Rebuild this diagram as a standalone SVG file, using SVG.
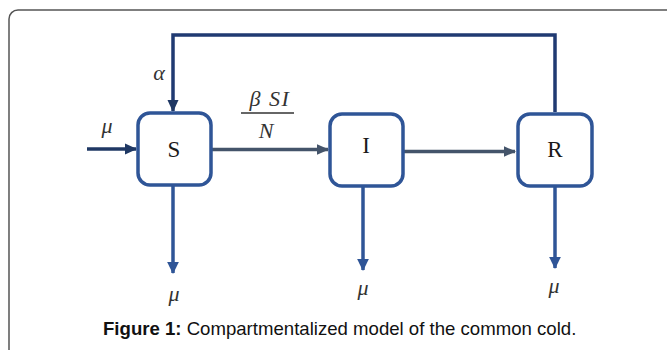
<svg xmlns="http://www.w3.org/2000/svg" width="667" height="350" viewBox="0 0 667 350">
  <style>
    .box { fill: #ffffff; stroke: #2f5597; stroke-width: 3.5; }
    .node-label { font-family: "Liberation Serif", "DejaVu Serif", serif; font-size: 23px; fill: #1a1a1a; text-anchor: middle; }
    .math { font-family: "Liberation Serif", "DejaVu Serif", serif; font-style: italic; font-size: 22px; fill: #333333; text-anchor: middle; }
    .down { stroke: #2f5597; stroke-width: 3.5; fill: none; }
    .flow { stroke: #44546a; stroke-width: 3.5; fill: none; }
    .feedback { stroke: #203a72; stroke-width: 3.5; fill: none; }
    .inflow { stroke: #1f3864; stroke-width: 3.5; fill: none; }
    .caption { font-family: "Liberation Sans", Arial, sans-serif; font-size: 18.6px; fill: #111111; }
  </style>
  <defs>
    <marker id="headBlue" markerWidth="4" markerHeight="4" refX="3.2" refY="2" orient="auto" markerUnits="strokeWidth">
      <path d="M0,0.3 L3.5,2 L0,3.7 Z" fill="#2f5597"/>
    </marker>
    <marker id="headGray" markerWidth="4" markerHeight="4" refX="3.2" refY="2" orient="auto" markerUnits="strokeWidth">
      <path d="M0,0.5 L3.5,2 L0,3.5 Z" fill="#44546a"/>
    </marker>
    <marker id="headNavy" markerWidth="4" markerHeight="4" refX="3.2" refY="2" orient="auto" markerUnits="strokeWidth">
      <path d="M0,0.4 L3.5,2 L0,3.6 Z" fill="#1f3864"/>
    </marker>
  </defs>

  <!-- figure frame -->
  <rect x="9" y="10" width="680" height="360" rx="9" fill="#ffffff" stroke="#555555" stroke-width="1.5"/>

  <!-- connectors -->
  <g id="connectors">
    <!-- recovery back to susceptible -->
    <path class="feedback" d="M555,112 V35 H173 V111" marker-end="url(#headNavy)"/>
    <!-- births -->
    <path class="inflow" d="M87,149 H136" marker-end="url(#headNavy)"/>
    <!-- infection -->
    <path class="flow" d="M212,149.5 H328" marker-end="url(#headGray)"/>
    <!-- recovery -->
    <path class="flow" d="M404,151.5 H515" marker-end="url(#headGray)"/>
    <!-- deaths -->
    <path class="down" d="M173,186 V273" marker-end="url(#headBlue)"/>
    <path class="down" d="M363,187 V270" marker-end="url(#headBlue)"/>
    <path class="down" d="M555,187 V268" marker-end="url(#headBlue)"/>
  </g>

  <!-- compartments -->
  <g id="node-S">
    <rect class="box" x="138" y="113" width="73" height="72" rx="12"/>
    <text class="node-label" x="174" y="157">S</text>
  </g>
  <g id="node-I">
    <rect class="box" x="330" y="114" width="73" height="72" rx="12"/>
    <text class="node-label" x="366" y="153">I</text>
  </g>
  <g id="node-R">
    <rect class="box" x="518" y="114" width="74" height="72" rx="12"/>
    <text class="node-label" x="555" y="157">R</text>
  </g>

  <!-- rate labels -->
  <g id="labels">
    <text class="math" x="159" y="80">α</text>
    <text class="math" x="107" y="133">μ</text>
    <text class="math" x="270" y="106" letter-spacing="1.5">β SI</text>
    <line x1="241" y1="113" x2="294" y2="113" stroke="#333333" stroke-width="1.5"/>
    <text class="math" x="266" y="138">N</text>
    <text class="math" x="174" y="301">μ</text>
    <text class="math" x="363" y="295">μ</text>
    <text class="math" x="554" y="293">μ</text>
  </g>

  <!-- caption -->
  <text class="caption" x="103" y="335"><tspan font-weight="bold">Figure 1:</tspan> Compartmentalized model of the common cold.</text>
</svg>
